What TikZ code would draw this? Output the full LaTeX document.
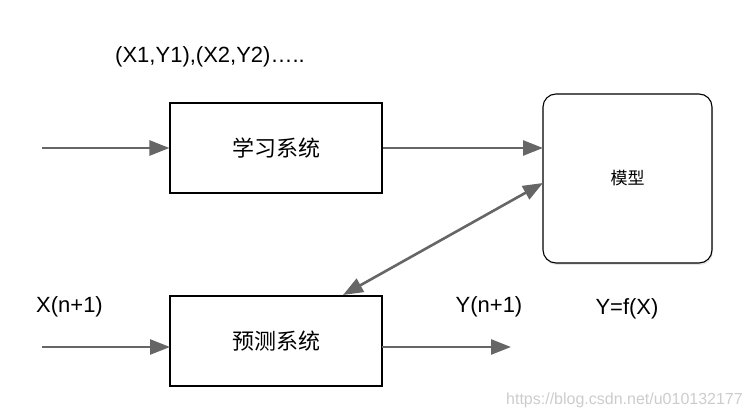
\documentclass[tikz,border=0pt]{standalone}
\usepackage{fontspec}
\setmainfont{Liberation Sans}
\newfontfamily\cjk{Noto Sans CJK SC}
\usetikzlibrary{arrows.meta,shadows}

\tikzset{
  sysbox/.style={draw, line width=1.1pt, minimum width=212pt, minimum height=90pt, inner sep=0pt, font=\cjk\fontsize{22}{22}\selectfont},
  modelbox/.style={draw, line width=1.1pt, rounded corners=13pt, minimum width=169pt, minimum height=169pt, inner sep=0pt, font=\cjk\fontsize{17}{17}\selectfont,
    fill=white, drop shadow={opacity=0.2, shadow xshift=1pt, shadow yshift=-2pt}},
  flow/.style={draw=black!60, line width=2.6pt, -{Triangle[length=20pt,width=15pt]}},
  lbl/.style={font=\fontsize{22}{22}\selectfont, inner sep=0pt},
}

\begin{document}
\begin{tikzpicture}[x=1pt,y=-1pt]
      \useasboundingbox (0,0) rectangle (752,419);

      \node[sysbox] (learn) at (276,148) {学习系统};
      \node[sysbox] (pred) at (276,341) {预测系统};
      \node[modelbox] (model) at (627.5,178.5) {模型};

      \coordinate (inL) at (42,148);
      \coordinate (inP) at (42,347);
      \coordinate (outP) at (511,347);
      \coordinate (predIn) at (382,347);
      \coordinate (predInL) at (170,347);
      \coordinate (modelIn) at (543,148);
      \coordinate (modelSide) at (543,183);
      \coordinate (predTop) at (343,295);

      \draw[flow] (inL) -- (learn.west);
      \draw[flow] (learn.east) -- (modelIn);
      \draw[flow, {Triangle[length=20pt,width=15pt]}-{Triangle[length=20pt,width=15pt]}] (predTop) -- (modelSide);
      \draw[flow] (inP) -- (predInL);
      \draw[flow] (predIn) -- (outP);

      \node[lbl] (samples) at (210,57) {(X1,Y1),(X2,Y2)\dots..};
      \node[lbl] (xin) at (69.5,307) {X(n+1)};
      \node[lbl] (yout) at (489,307) {Y(n+1)};
      \node[lbl] (func) at (627,309) {Y=f(X)};

      \node[font=\fontsize{16}{16}\selectfont, text=black!20, anchor=east, inner sep=0pt] (mark) at (743,400) {https://blog.csdn.net/u010132177};

\end{tikzpicture}
\end{document}
